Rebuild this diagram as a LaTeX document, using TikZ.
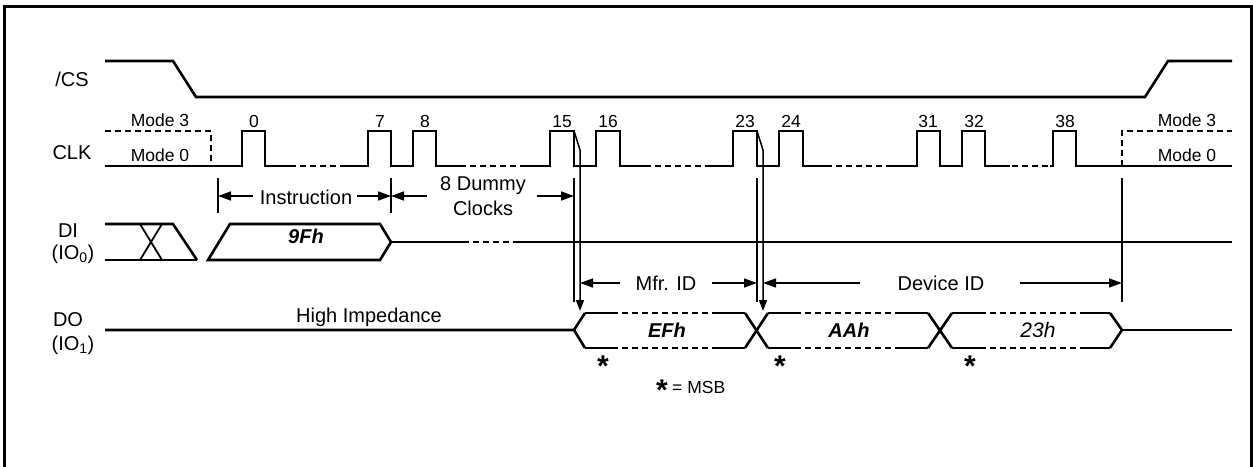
\documentclass[tikz,border=0pt]{standalone}
\usepackage{fontspec}
\setmainfont{Liberation Sans}
\usetikzlibrary{arrows.meta}
\begin{document}
\begin{tikzpicture}[x=1pt,y=-1pt,
  sig/.style={line width=2.6pt, line join=miter, line cap=butt},
  dsig/.style={sig, dash pattern=on 6pt off 4pt},
  xsig/.style={line width=1.8pt},
  guide/.style={line width=1.5pt},
  dimarrow/.style={line width=1.5pt, -{Triangle[length=13pt,width=9pt]}},
  vtip/.style={line width=1.5pt, -{Triangle[length=11pt,width=8pt]}},
  lbl/.style={font=\fontsize{20}{22}\selectfont, inner sep=0pt, anchor=base},
  small/.style={font=\fontsize{17.5}{19}\selectfont, inner sep=0pt, anchor=base},
  bus/.style={font=\fontsize{20}{22}\selectfont\bfseries\itshape, inner sep=0pt, anchor=base},
  star/.style={font=\fontsize{30}{30}\selectfont\bfseries, inner sep=0pt, anchor=north}
]
\useasboundingbox (0,0) rectangle (1253,466);
\clip (0,0) rectangle (1253,466);
% frame
\draw[line width=3pt] (4,520) -- (4,6.5) -- (1251,6.5) -- (1251,520);

% ---------- /CS ----------
\node[lbl] (cslbl) at (72,86) {/CS};
\draw[sig] (105,61) -- (173,61) -- (196,97) -- (1145,97) -- (1168,61) -- (1232,61);

% ---------- CLK ----------
\node[lbl] (clklbl) at (72,159) {CLK};
\node[small] (m3l) at (160,126) {Mode 3};
\node[small] (m0l) at (160,161) {Mode 0};
\node[small] (m3r) at (1187,126) {Mode 3};
\node[small] (m0r) at (1187,161) {Mode 0};
\draw[dsig] (105,131) -- (211,131) -- (211,166);
\draw[dsig] (1122,166) -- (1122,131) -- (1232,131);
% solid pieces
\draw[sig] (105,166) -- (242,166) |- (265,131) -- (265,166) -- (290,166);
\draw[sig] (345,166) -- (368,166) |- (391,131) -- (391,166) -- (413,166) |- (436,131) -- (436,166) -- (460,166);
\draw[sig] (522,166) -- (550,166) |- (574,131) -- (574,166) -- (596,166) |- (620,131) -- (620,166) -- (645,166);
\draw[sig] (705,166) -- (733,166) |- (757,131) -- (757,166) -- (779,166) |- (803,131) -- (803,166) -- (826,166);
\draw[sig] (890,166) -- (917,166) |- (940,131) -- (940,166) -- (962,166) |- (985,131) -- (985,166) -- (1010,166);
\draw[sig] (1050,166) -- (1053,166) |- (1076,131) -- (1076,166) -- (1232,166);
% dotted gaps
\draw[dsig] (290,166) -- (345,166);
\draw[dsig] (460,166) -- (522,166);
\draw[dsig] (645,166) -- (705,166);
\draw[dsig] (826,166) -- (890,166);
\draw[dsig] (1012,166) -- (1050,166);
% clock numbers
\foreach \n/\x in {0/254,7/380,8/425,15/562,16/608,23/745,24/791,31/928,32/974,38/1065}
  \node[small] (c\n) at (\x,127) {\n};

% ---------- timing guides ----------
\draw[guide] (218,178) -- (218,213);
\draw[guide] (391,178) -- (391,213);
\draw[guide] (574,178) -- (574,302);
\draw[guide] (757,178) -- (757,302);
\draw[guide] (1122,178) -- (1122,302);
\coordinate (t15) at (574,131);
\coordinate (t23) at (757,131);
\coordinate (d15) at (580,311);
\coordinate (d23) at (763,311);
\draw[vtip] (t15) -- (580,150) -- (d15);
\draw[vtip] (t23) -- (763,150) -- (d23);

\node[lbl] (instr) at (306,204) {Instruction};
\draw[dimarrow] (253,196) -- (218,196);
\draw[dimarrow] (357,196) -- (391,196);
\node[lbl] (dum1) at (483,190) {8 Dummy};
\node[lbl] (dum2) at (483,215) {Clocks};
\draw[dimarrow] (427,196) -- (391,196);
\draw[dimarrow] (537,196) -- (574,196);
\node[lbl] (mfr) at (666,290) {Mfr. ID};
\draw[dimarrow] (620,283) -- (580,283);
\draw[dimarrow] (712,283) -- (757,283);
\node[lbl] (dev) at (941,290) {Device ID};
\draw[dimarrow] (860,283) -- (763,283);
\draw[dimarrow] (1020,283) -- (1122,283);

% ---------- DI ----------
\node[lbl] (dilbl) at (68,237) {DI};
\node[lbl] (io0) at (73,259) {(IO\textsubscript{0})};
\draw[sig] (105,224) -- (173,224) -- (197,260);
\draw[sig] (105,260) -- (197,260);
\draw[xsig] (140,224) -- (162,260);
\draw[xsig] (140,260) -- (162,224);
\draw[sig] (208,260) -- (230,224) -- (380,224) -- (391,242) -- (380,260) -- cycle;
\node[bus] (b9f) at (306,243) {9Fh};
\draw[sig] (391,242) -- (463,242);
\draw[dsig] (463,242) -- (518,242);
\draw[sig] (518,242) -- (1232,242);

% ---------- DO ----------
\node[lbl] (dolbl) at (68,326) {DO};
\node[lbl] (io1) at (73,350) {(IO\textsubscript{1})};
\node[lbl] (hiz) at (369,322) {High Impedance};
\draw[sig] (105,330) -- (574,330) -- (585,313);
\draw[sig] (574,330) -- (585,348);
% bus segments
\foreach \y in {313,348} {
  \draw[sig] (585,\y) -- (612,\y);
  \draw[dsig] (612,\y) -- (718,\y);
  \draw[sig] (718,\y) -- (745,\y);
  \draw[sig] (768,\y) -- (795,\y);
  \draw[dsig] (795,\y) -- (901,\y);
  \draw[sig] (901,\y) -- (928,\y);
  \draw[sig] (952,\y) -- (980,\y);
  \draw[dsig] (980,\y) -- (1084,\y);
  \draw[sig] (1084,\y) -- (1110,\y);
}
\draw[sig] (745,313) -- (768,348);
\draw[sig] (745,348) -- (768,313);
\draw[sig] (928,313) -- (952,348);
\draw[sig] (928,348) -- (952,313);
\draw[sig] (1110,313) -- (1122,330) -- (1110,348);
\draw[sig] (1122,330) -- (1232,330);
\node[bus] (bef) at (667,337) {EFh};
\node[bus] (baa) at (849,337) {AAh};
\node[lbl, font=\fontsize{21}{22}\selectfont\itshape] (b23) at (1038,337) {23h};

% MSB markers
\node[star] (s1) at (603,356) {*};
\node[star] (s2) at (780,356) {*};
\node[star] (s3) at (970,356) {*};
\node[star] (s4) at (662,380) {*};
\node[small, anchor=base west] (msb) at (672,393) {= MSB};
\end{tikzpicture}
\end{document}
